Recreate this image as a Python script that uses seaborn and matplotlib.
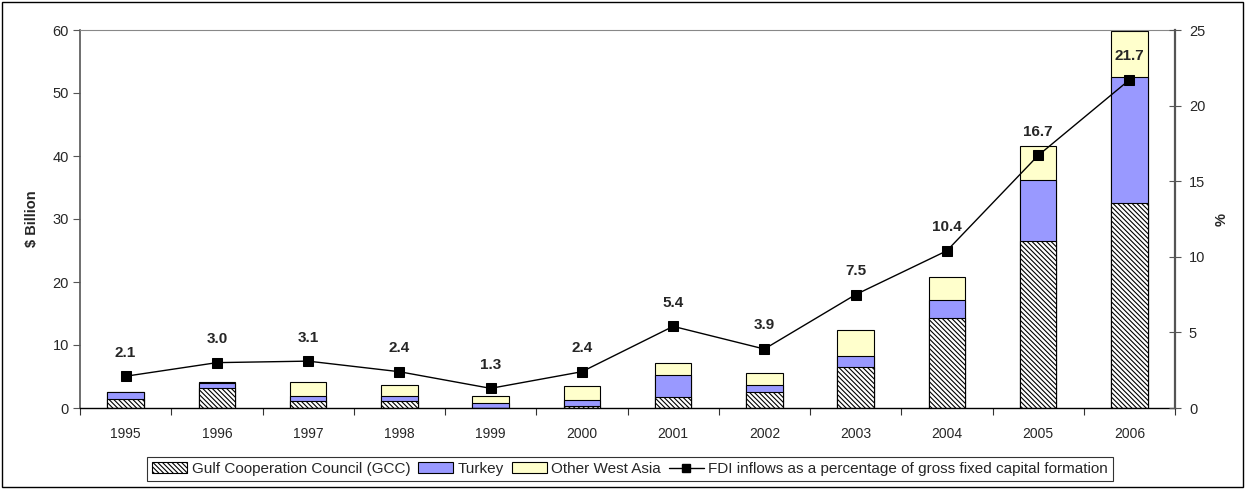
import numpy as np
import pandas as pd
import matplotlib
matplotlib.use("Agg")
import matplotlib.pyplot as plt
from matplotlib.patches import Patch, Rectangle
from matplotlib.lines import Line2D
import seaborn as sns

years = ["1995", "1996", "1997", "1998", "1999", "2000",
         "2001", "2002", "2003", "2004", "2005", "2006"]
gcc = [1.4, 3.1, 1.1, 1.1, 0.05, 0.3, 1.8, 2.6, 6.5, 14.3, 26.5, 32.5]
turkey = [1.1, 0.9, 0.8, 0.75, 0.7, 0.95, 3.4, 1.05, 1.7, 2.8, 9.7, 20.1]
other_west_asia = [0.05, 0.2, 2.3, 1.75, 1.1, 2.3, 2.0, 1.95, 4.2, 3.7, 5.4, 7.3]
fdi_pct = [2.1, 3.0, 3.1, 2.4, 1.3, 2.4, 5.4, 3.9, 7.5, 10.4, 16.7, 21.7]

sns.set_theme(style="white")
plt.rcParams["font.family"] = ["Liberation Sans", "DejaVu Sans"]
plt.rcParams["hatch.linewidth"] = 0.8
plt.rcParams["hatch.color"] = "#3a3a3a"

GCC_HATCH = "\\" * 7

df = pd.DataFrame({"year": years, "gcc": gcc, "turkey": turkey, "other": other_west_asia})
df["gcc_turkey"] = df["gcc"] + df["turkey"]
df["total"] = df["gcc_turkey"] + df["other"]

fig = plt.figure(figsize=(12.46, 4.90), dpi=100)
ax = fig.add_axes([80 / 1246, 82 / 490, 1095 / 1246, 378 / 490])

edge = dict(edgecolor="black", linewidth=0.8, width=0.4)
sns.barplot(data=df, x="year", y="total", color="#FFFFCC", saturation=1, ax=ax, **edge)
sns.barplot(data=df, x="year", y="gcc_turkey", color="#9999FF", saturation=1, ax=ax, **edge)
sns.barplot(data=df, x="year", y="gcc", color="white", saturation=1, ax=ax,
            hatch=GCC_HATCH, **edge)

ax.set_xlim(-0.5, len(years) - 0.5)
ax.set_ylim(0, 60)
ax.set_yticks(range(0, 61, 10))
ax.set_xlabel("")
ax.set_ylabel("\\$ Billion", fontsize=10.5, fontweight="bold", labelpad=10)
ax.tick_params(axis="y", which="both", left=True, length=5, width=0.8, color="#555555",
               labelsize=10.5, pad=3)
ax.tick_params(axis="x", which="major", bottom=False, labelsize=10, pad=8)
ax.set_xticks(np.arange(-0.5, len(years), 1.0), minor=True)
ax.tick_params(axis="x", which="minor", bottom=True, length=5, width=0.8, color="#333333")

ax.spines["left"].set_color("#555555")
ax.spines["left"].set_linewidth(1.2)
ax.spines["bottom"].set_color("black")
ax.spines["bottom"].set_linewidth(1.0)
ax.spines["top"].set_color("#888888")
ax.spines["top"].set_linewidth(0.8)
ax.spines["right"].set_visible(False)

ax2 = ax.twinx()
line_df = pd.DataFrame({"pos": np.arange(len(years)), "pct": fdi_pct})
sns.lineplot(data=line_df, x="pos", y="pct", ax=ax2, color="black", linewidth=1.0,
             marker="s", markersize=7, markeredgecolor="black", markerfacecolor="black",
             sort=False)
ax2.set_ylim(0, 25)
ax2.set_yticks(range(0, 26, 5))
ax2.set_xlim(-0.5, len(years) - 0.5)
ax2.set_ylabel("%", fontsize=10.5, fontweight="bold", labelpad=7)
ax2.tick_params(axis="y", right=True, direction="inout", length=8, width=0.8,
                color="#555555", labelsize=10.5, pad=6)
ax2.spines["right"].set_color("#555555")
ax2.spines["right"].set_linewidth(1.6)
for side in ["left", "top", "bottom"]:
    ax2.spines[side].set_visible(False)

for x, v in zip(line_df["pos"], fdi_pct):
    ax2.annotate(f"{v:.1f}", (x, v), xytext=(0, 17), textcoords="offset points",
                 ha="center", va="center", fontsize=11, fontweight="bold")

handles = [
    Patch(facecolor="white", edgecolor="black", hatch=GCC_HATCH, linewidth=0.8),
    Patch(facecolor="#9999FF", edgecolor="black", linewidth=0.8),
    Patch(facecolor="#FFFFCC", edgecolor="black", linewidth=0.8),
    Line2D([], [], color="black", linewidth=1.0, marker="s", markersize=6),
]
labels = ["Gulf Cooperation Council (GCC)", "Turkey", "Other West Asia",
          "FDI inflows as a percentage of gross fixed capital formation"]
leg = fig.legend(handles, labels, loc="center", bbox_to_anchor=(630 / 1246, 21 / 490),
                 ncol=4, fontsize=11, frameon=True, fancybox=False, edgecolor="black",
                 handlelength=2.3, handleheight=0.7, handletextpad=0.3,
                 columnspacing=0.5, borderpad=0.3, borderaxespad=0)
leg.get_frame().set_linewidth(0.8)

fig.patches.append(Rectangle((2 / 1246, 3 / 490), 1241 / 1246, 485 / 490,
                             transform=fig.transFigure, fill=False,
                             edgecolor="black", linewidth=1.0))

fig.savefig("out.png", dpi=100)
